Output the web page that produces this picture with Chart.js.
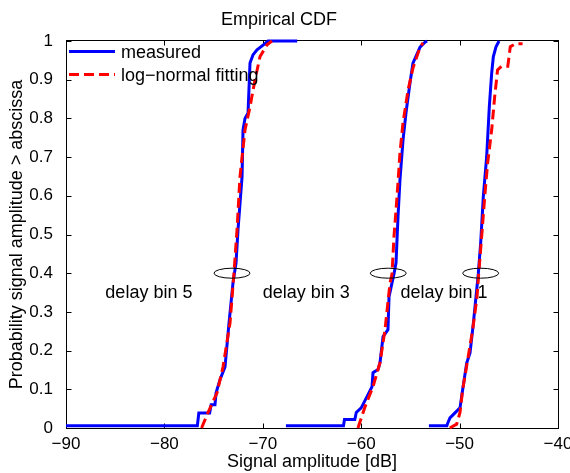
<!DOCTYPE html>
<html>
<head>
<meta charset="utf-8">
<script src="https://cdn.jsdelivr.net/npm/chart.js@4.4.0/dist/chart.umd.min.js"></script>
<style>
  html, body { margin: 0; padding: 0; background: #fff; }
  #wrap { width: 570px; height: 473px; }
</style>
</head>
<body>
<div id="wrap"><canvas id="chart" width="570" height="473"></canvas></div>
<script>
// measured (empirical) CDFs
const measBin5X = [-90, -76.65, -76.5, -75.4, -75.25, -74.86, -74.75, -74.35, -73.84, -73.43, -73.03, -72.72, -72.52, -72.11, -72.01, -71.81, -71.5, -71.3, -71.0, -70.59, -69.78, -69.47, -66.5];
const measBin5Y = [0.006, 0.006, 0.039, 0.039, 0.06, 0.06, 0.091, 0.125, 0.158, 0.272, 0.375, 0.427, 0.512, 0.649, 0.77, 0.80, 0.814, 0.943, 0.964, 0.977, 0.993, 1.0, 1.0];
const measBin3X = [-67.65, -61.8, -61.7, -60.65, -60.5, -60.0, -59.41, -58.9, -58.8, -58.29, -58.09, -57.78, -57.28, -57.17, -56.87, -56.67, -56.46, -56.26, -56.06, -55.75, -55.45, -55.04, -54.74, -54.02, -53.52, -53.3];
const measBin3Y = [0.006, 0.006, 0.022, 0.022, 0.04, 0.052, 0.081, 0.107, 0.143, 0.151, 0.169, 0.236, 0.254, 0.339, 0.375, 0.398, 0.427, 0.546, 0.641, 0.744, 0.814, 0.892, 0.943, 0.984, 0.997, 1.0];
const measBin1X = [-53.12, -51.3, -51.2, -50.98, -50.47, -49.96, -49.69, -49.28, -48.94, -48.6, -48.33, -48.1, -47.86, -47.59, -47.25, -46.98, -46.74, -46.57, -46.3, -45.99];
const measBin1Y = [0.006, 0.006, 0.013, 0.026, 0.039, 0.052, 0.099, 0.168, 0.194, 0.271, 0.34, 0.398, 0.478, 0.598, 0.701, 0.83, 0.917, 0.96, 0.985, 1.0];

// log-normal fits
const fitBin5X = [-76.22, -75.57, -74.65, -74.04, -73.33, -72.93, -72.62, -72.32, -71.81, -71.3, -70.79, -70.28, -69.57, -69.07];
const fitBin5Y = [0, 0.04, 0.091, 0.158, 0.272, 0.40, 0.512, 0.649, 0.77, 0.83, 0.90, 0.96, 0.99, 1.0];
const fitBin3X = [-60.33, -59.61, -58.8, -58.09, -57.58, -57.07, -56.87, -56.67, -56.36, -56.06, -55.75, -55.24, -54.74, -54.02, -53.72];
const fitBin3Y = [0, 0.055, 0.107, 0.169, 0.254, 0.375, 0.398, 0.494, 0.597, 0.711, 0.789, 0.873, 0.93, 0.984, 0.995];
const fitBin1X = [-51.0, -50.3, -49.96, -49.69, -49.18, -48.67, -48.23, -48.06, -47.76, -47.45, -47.15, -46.74, -46.44, -46.14, -45.73, -45.1, -44.85, -44.3, -43.6];
const fitBin1Y = [0, 0.01, 0.04, 0.099, 0.176, 0.254, 0.339, 0.398, 0.494, 0.597, 0.685, 0.77, 0.855, 0.925, 0.935, 0.935, 0.985, 0.993, 0.993];

// ticks
const xTicks = [-90, -80, -70, -60, -50, -40];
const xTickLabels = ['\u221290', '\u221280', '\u221270', '\u221260', '\u221250', '\u221240'];
const yTicks = [0, 0.1, 0.2, 0.3, 0.4, 0.5, 0.6, 0.7, 0.8, 0.9, 1];
const yTickLabels = ['0', '0.1', '0.2', '0.3', '0.4', '0.5', '0.6', '0.7', '0.8', '0.9', '1'];

// annotations
const binLabels = ['delay bin 5', 'delay bin 3', 'delay bin 1'];
const binLabelX = [-86, -70, -56];
const binLabelY = [0.35, 0.35, 0.35];
const ellipseX = [-73.13, -57.25, -47.86];
const ellipseY = [0.4, 0.4, 0.4];

const legendNames = ['measured', 'log\u2212normal fitting'];

const BLUE = '#0000ff';
const RED = '#ff0000';
const FONT = "'Liberation Sans', Arial, sans-serif";

function pts(xs, ys) {
    return xs.map((v, i) => ({ x: v, y: ys[i] }));
}

function lineSet(xs, ys, color, dashed) {
    return {
        data: pts(xs, ys),
        showLine: true,
        borderColor: color,
        backgroundColor: color,
        borderWidth: 3,
        borderDash: dashed ? [10, 5] : [],
        pointRadius: 0,
        tension: 0,
        fill: false,
        clip: false
    };
}

// fits first so they are drawn on top
const data = {
    datasets: [
        lineSet(fitBin5X, fitBin5Y, RED, true),
        lineSet(fitBin3X, fitBin3Y, RED, true),
        lineSet(fitBin1X, fitBin1Y, RED, true),
        lineSet(measBin5X, measBin5Y, BLUE, false),
        lineSet(measBin3X, measBin3Y, BLUE, false),
        lineSet(measBin1X, measBin1Y, BLUE, false)
    ]
};

// box with inward tick marks on all four sides
const frame = {
    id: 'frame',
    beforeDatasetsDraw(chart) {
        const { ctx, chartArea: { top, bottom, left, right }, scales: { x, y } } = chart;
        ctx.save();
        ctx.strokeStyle = '#000';
        ctx.lineWidth = 1;
        const l = left + 0.5, r = right + 0.5, t = top - 0.5, b = bottom + 0.5;
        ctx.strokeRect(l, t, r - l, b - t);
        ctx.beginPath();
        xTicks.forEach(v => {
            const px = Math.round(x.getPixelForValue(v)) + 0.5;
            ctx.moveTo(px, b); ctx.lineTo(px, b - 5);
            ctx.moveTo(px, t); ctx.lineTo(px, t + 5);
        });
        yTicks.forEach(v => {
            const py = Math.round(y.getPixelForValue(v)) + 0.5;
            ctx.moveTo(l, py); ctx.lineTo(l + 5, py);
            ctx.moveTo(r, py); ctx.lineTo(r - 5, py);
        });
        ctx.stroke();
        ctx.restore();
    },
    afterDatasetsDraw(chart) {
        const { ctx, scales: { x, y } } = chart;
        ctx.save();
        // ellipses around the 0.4 crossing
        ctx.strokeStyle = '#000';
        ctx.lineWidth = 1;
        ellipseX.forEach((v, i) => {
            ctx.beginPath();
            ctx.ellipse(x.getPixelForValue(v), y.getPixelForValue(ellipseY[i]), 18, 5, 0, 0, Math.PI * 2);
            ctx.stroke();
        });
        // bin labels
        ctx.fillStyle = '#000';
        ctx.font = '18px ' + FONT;
        ctx.textAlign = 'left';
        ctx.textBaseline = 'middle';
        binLabels.forEach((s, i) => {
            ctx.fillText(s, x.getPixelForValue(binLabelX[i]), y.getPixelForValue(binLabelY[i]));
        });
        // legend (no box)
        ctx.lineWidth = 3;
        ctx.strokeStyle = BLUE;
        ctx.setLineDash([]);
        ctx.beginPath();
        ctx.moveTo(69, 51.5); ctx.lineTo(115, 51.5);
        ctx.stroke();
        ctx.strokeStyle = RED;
        ctx.setLineDash([10, 5]);
        ctx.beginPath();
        ctx.moveTo(69, 74.5); ctx.lineTo(115, 74.5);
        ctx.stroke();
        ctx.setLineDash([]);
        ctx.textBaseline = 'alphabetic';
        ctx.fillText(legendNames[0], 121, 58);
        ctx.fillText(legendNames[1], 121, 81);
        ctx.restore();
    }
};

Chart.defaults.color = '#000';
Chart.defaults.font.family = FONT;

const config = {
    type: 'scatter',
    data,
    options: {
        responsive: false,
        devicePixelRatio: 1,
        animation: false,
        events: [],
        layout: {
            padding: { top: 0, right: 12, bottom: 0, left: 0 }
        },
        plugins: {
            legend: { display: false },
            tooltip: { enabled: false },
            title: {
                display: true,
                text: 'Empirical CDF',
                font: { size: 18, weight: 'normal' },
                padding: { top: 9, bottom: 10.4 }
            }
        },
        scales: {
            x: {
                type: 'linear',
                min: -90,
                max: -40,
                grid: { display: false },
                border: { display: false },
                afterBuildTicks: s => { s.ticks = xTicks.map(v => ({ value: v })); },
                ticks: {
                    font: { size: 17 },
                    padding: -2,
                    maxRotation: 0,
                    autoSkip: false,
                    callback: (v, i) => xTickLabels[i]
                },
                title: {
                    display: true,
                    text: 'Signal amplitude [dB]',
                    font: { size: 18 },
                    padding: { top: 0, bottom: 0 }
                },
                afterFit: s => { s.height = 45; s.paddingLeft = 0; s.paddingRight = 0; }
            },
            y: {
                type: 'linear',
                min: 0,
                max: 1,
                grid: { display: false },
                border: { display: false },
                afterBuildTicks: s => { s.ticks = yTicks.map(v => ({ value: v })); },
                ticks: {
                    font: { size: 17 },
                    padding: 5,
                    autoSkip: false,
                    callback: (v, i) => yTickLabels[i]
                },
                title: {
                    display: true,
                    text: 'Probability signal amplitude > abscissa',
                    font: { size: 18 },
                    padding: { top: 6.5, bottom: 0 }
                },
                afterFit: s => { s.width = 66; s.paddingTop = 0; s.paddingBottom = 0; }
            }
        }
    },
    plugins: [frame]
};

var chart = new Chart(document.getElementById('chart'), config);
</script>
</body>
</html>
